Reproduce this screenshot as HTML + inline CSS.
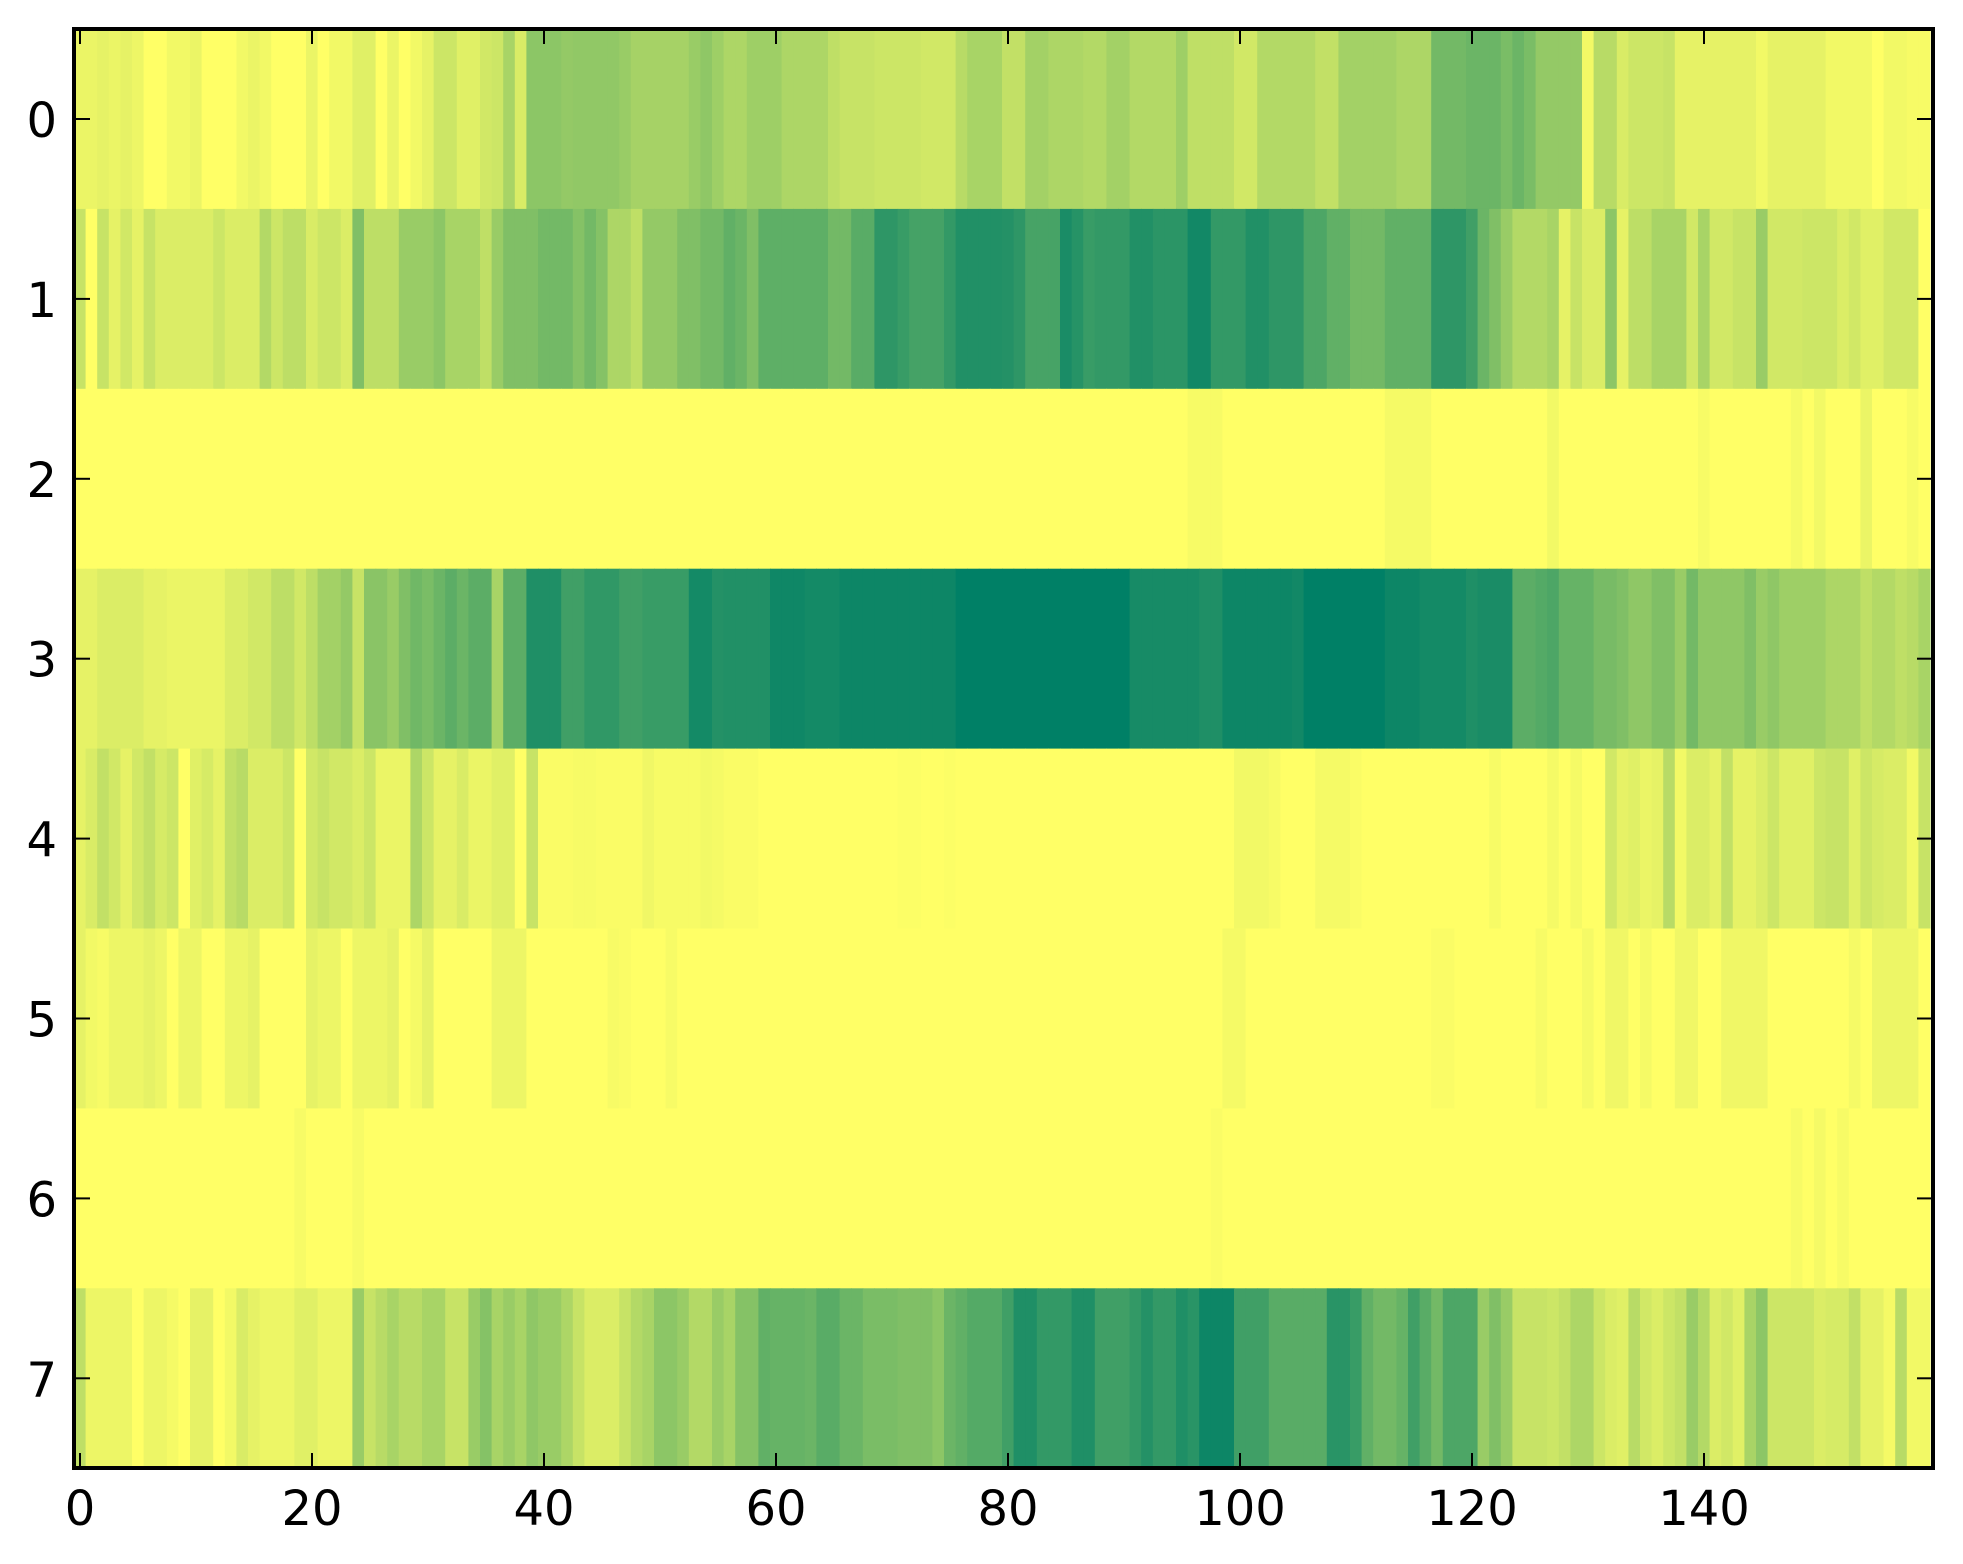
<!DOCTYPE html>
<html><head><meta charset="utf-8"><style>
html,body{margin:0;padding:0;background:#fff;}
svg{display:block;}
text{font-family:"DejaVu Sans","Liberation Sans",sans-serif;font-size:48px;fill:#000;}
</style></head><body>
<svg id="s" width="1963" height="1564" viewBox="0 0 1963 1564" xmlns="http://www.w3.org/2000/svg">
<g id="cells"></g>
<g id="axes"></g>
</svg>
<script>
var R=[
[[2,.92],[1,.9],[1,.92],[1,.9],[1,.93],[2,1],[2,.95],[1,.92],[3,1],[1,.95],[1,.92],[1,.95],[3,1],[1,.92],[1,1],[2,.95],[2,.88],[1,1],[1,.92],[1,1],[1,.95],[1,.9],[2,.8],[2,.88],[1,.82],[1,.8],[1,.66],[1,.85],[3,.55],[1,.58],[4,.57],[1,.6],[5,.65],[1,.6],[1,.56],[1,.62],[2,.68],[3,.62],[4,.68],[1,.75],[3,.78],[4,.8],[3,.82],[1,.72],[3,.66],
 [2,.76],[2,.64],[3,.68],[2,.7],[2,.64],[4,.7],[1,.62],[4,.75],[2,.82],[5,.7],[2,.76],[5,.64],[3,.68],[3,.45],[3,.42],[1,.48],[1,.42],[1,.48],[4,.58],[1,.95],[2,.72],[1,.85],[3,.8],[1,.78],[7,.9],[1,.95],[5,.9],[4,.95],[1,1],[2,.95],[2,.97]],
[[1,.78],[1,1],[1,.78],[1,.9],[1,.82],[1,.9],[1,.78],[5,.86],[1,.8],[3,.86],[1,.7],[1,.8],[2,.74],[1,.85],[2,.8],[1,.86],[1,.5],[3,.74],[3,.6],[1,.55],[3,.66],[1,.75],[1,.6],[3,.5],[3,.45],[1,.52],[1,.45],[1,.52],[2,.68],[1,.75],[3,.58],[2,.5],[2,.45],[1,.38],[1,.42],[1,.5],[6,.37],[2,.45],[2,.35],[2,.18],[1,.22],[3,.27],[1,.2],[4,.13],
 [1,.14],[1,.18],[3,.28],[1,.1],[1,.15],[1,.22],[3,.2],[2,.13],[3,.17],[2,.07],[3,.2],[2,.13],[3,.18],[2,.3],[2,.38],[3,.45],[4,.38],[3,.18],[1,.25],[1,.42],[1,.5],[1,.6],[3,.7],[1,.66],[1,.9],[1,.78],[2,.86],[1,.55],[1,.9],[2,.74],[3,.66],[1,.82],[1,.66],[2,.82],[2,.78],[1,.6],[3,.82],[3,.8],[1,.86],[1,.82],[2,.88],[1,.82],[2,.82],[1,1]],
[[96,1],[3,.97],[14,1],[4,.96],[10,1],[1,.95],[12,1],[1,.97],[7,1],[1,.96],[1,1],[1,.95],[3,1],[1,.92],[3,1],[1,.97],[1,1]],
[[2,.9],[4,.86],[2,.9],[5,.92],[2,.86],[2,.82],[2,.74],[1,.82],[1,.74],[2,.64],[1,.58],[1,.78],[2,.54],[1,.6],[1,.5],[1,.44],[1,.48],[1,.42],[1,.36],[1,.42],[2,.36],[1,.66],[2,.36],[3,.12],[2,.25],[3,.19],[2,.25],[4,.22],[2,.08],[1,.14],[4,.13],[3,.06],[3,.08],[3,.05],[7,.05],[1,0],[3,0],
 [11,0],[6,.09],[2,.12],[6,.05],[1,.07],[7,0],[3,.05],[4,.08],[1,.12],[3,.1],[2,.36],[1,.33],[1,.3],[3,.4],[2,.47],[1,.5],[2,.56],[2,.5],[1,.6],[1,.45],[4,.56],[1,.5],[1,.6],[1,.56],[4,.62],[3,.68],[1,.75],[2,.7],[1,.75],[1,.72],[1,.66]],
[[1,.9],[1,.85],[1,.76],[1,.82],[1,.9],[1,.82],[1,.76],[1,.84],[1,.8],[1,1],[1,.88],[1,.84],[1,.9],[1,.76],[1,.72],[3,.86],[1,.8],[1,1],[1,.82],[1,.78],[2,.82],[1,.86],[1,.8],[3,.92],[1,.68],[1,.8],[2,.9],[1,.85],[2,.92],[2,.88],[1,1],[1,.78],[3,.98],[1,.97],[1,.97],[4,.98],[1,.94],[4,.97],[1,.95],[1,.96],[3,.98],[12,1],[2,.99],[2,1],[1,.99],[4,1],
 [20,1],[3,.95],[1,.97],[3,1],[3,.96],[1,.98],[11,1],[1,.97],[4,1],[1,.96],[1,1],[1,.96],[2,1],[1,.82],[1,.9],[1,.88],[1,.92],[1,.9],[1,.72],[1,.95],[2,.86],[1,.9],[1,.76],[2,.9],[1,.86],[1,.8],[3,.88],[1,.8],[2,.78],[1,.88],[1,.8],[1,.84],[2,.86],[1,.95],[1,.78]],
[[1,.9],[1,.95],[1,.97],[3,.93],[1,.9],[1,.93],[1,1],[2,.93],[2,1],[2,.93],[1,.9],[4,1],[1,.9],[2,.93],[1,1],[3,.93],[1,.9],[1,1],[1,.96],[1,.9],[5,1],[3,.93],[7,1],[1,.97],[1,.98],[3,1],[1,.97],[28,1],
 [19,1],[2,.96],[16,1],[2,.98],[7,1],[1,.97],[3,1],[1,.96],[1,1],[2,.94],[1,1],[1,.96],[2,1],[2,.94],[2,1],[4,.94],[7,1],[1,.96],[1,1],[4,.93],[1,1]],
[[19,1],[1,.97],[4,1],[1,.97],[73,1],[1,.98],[49,1],[1,.97],[1,1],[1,.96],[1,1],[1,.97],[7,1]],
[[1,.75],[4,.93],[1,1],[2,.93],[1,.96],[1,1],[2,.9],[1,1],[1,.95],[1,.85],[1,.9],[3,.93],[2,.88],[3,.93],[1,.6],[1,.78],[1,.72],[1,.66],[2,.72],[2,.66],[2,.78],[1,.6],[1,.52],[1,.66],[1,.6],[1,.66],[1,.56],[2,.6],[1,.68],[1,.78],[3,.86],[1,.78],[1,.7],[1,.66],[2,.55],[1,.6],[2,.7],[1,.6],[1,.66],[2,.52],[1,.38],[3,.4],[1,.42],[2,.35],[2,.42],[3,.48],[3,.5],[1,.55],[1,.42],[1,.38],[3,.33],
 [1,.25],[2,.12],[3,.2],[2,.12],[3,.25],[1,.2],[1,.14],[2,.2],[1,.12],[1,.16],[2,.05],[1,.05],[3,.25],[5,.35],[2,.16],[1,.22],[1,.38],[2,.45],[1,.4],[1,.25],[1,.35],[1,.45],[3,.3],[1,.6],[1,.5],[1,.6],[3,.78],[1,.8],[1,.76],[2,.68],[1,.8],[1,.86],[1,.88],[1,.72],[1,.82],[1,.86],[1,.8],[1,.76],[1,.6],[1,.7],[1,.86],[1,.82],[1,.88],[1,.66],[1,.55],[4,.8],[1,.86],[2,.84],[1,.76],[2,.9],[1,.96],[1,.72],[2,.95]]
];
var X0=74, CW=11.6, Y0=29, RH=179.9, XR=1933, YB=1468;
var h='';
function col(v){return 'rgb('+Math.round(v*255)+','+Math.round((0.5+0.5*v)*255)+',102)';}
for(var r=0;r<8;r++){
  var vals=[];
  R[r].forEach(function(p){for(var i=0;i<p[0];i++)vals.push(p[1]);});
  while(vals.length<160)vals.push(vals[vals.length-1]);
  vals.length=160;
  var y=Y0+r*RH;
  for(var c=0;c<160;c++){
    var x=X0+c*CW;
    var w=Math.min(CW+0.6, XR-x);
    if(w<=0)break;
    h+='<rect x="'+x.toFixed(2)+'" y="'+y.toFixed(2)+'" width="'+w.toFixed(2)+'" height="'+(RH+0.6).toFixed(2)+'" fill="'+col(vals[c])+'"/>';
  }
}
document.getElementById('cells').innerHTML=h;
var a='';
a+='<rect x="'+X0+'" y="'+Y0+'" width="'+(XR-X0)+'" height="'+(YB-Y0)+'" fill="none" stroke="#000" stroke-width="4"/>';
for(var k=0;k<=140;k+=20){
  var x=80+k*CW;
  a+='<line x1="'+x+'" y1="'+YB+'" x2="'+x+'" y2="'+(YB-15)+'" stroke="#000" stroke-width="2"/>';
  a+='<line x1="'+x+'" y1="'+Y0+'" x2="'+x+'" y2="'+(Y0+15)+'" stroke="#000" stroke-width="2"/>';
  a+='<text x="'+x+'" y="1525" text-anchor="middle">'+k+'</text>';
}
for(var i=0;i<8;i++){
  var y=Y0+90+i*RH;
  a+='<line x1="'+X0+'" y1="'+y+'" x2="'+(X0+16)+'" y2="'+y+'" stroke="#000" stroke-width="2"/>';
  a+='<line x1="'+XR+'" y1="'+y+'" x2="'+(XR-16)+'" y2="'+y+'" stroke="#000" stroke-width="2"/>';
  a+='<text x="57" y="'+(y+18)+'" text-anchor="end">'+i+'</text>';
}
document.getElementById('axes').innerHTML=a;
</script>
</body></html>
